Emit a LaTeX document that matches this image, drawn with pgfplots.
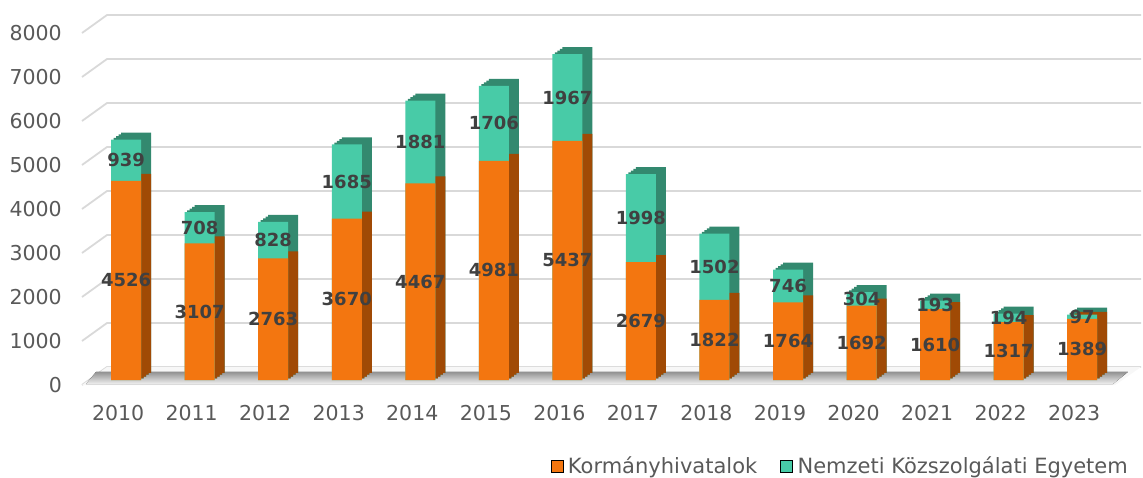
\documentclass[border=0pt]{standalone}
\usepackage{pgfplots}
\pgfplotsset{compat=1.18}
\usepackage{pgfplotstable}
\usepackage{fontspec}
\setmainfont{DejaVu Sans}
\definecolor{ora}{HTML}{F37610}
\definecolor{oras}{HTML}{A04A05}
\definecolor{tea}{HTML}{48CBA7}
\definecolor{teas}{HTML}{33896F}
\definecolor{tickc}{HTML}{595959}
\definecolor{labc}{HTML}{404040}
\definecolor{gridc}{HTML}{D9D9D9}

\pgfplotstableread{
x a b
0 4526 939
1 3107 708
2 2763 828
3 3670 1685
4 4467 1881
5 4981 1706
6 5437 1967
7 2679 1998
8 1822 1502
9 1764 746
10 1692 304
11 1610 193
12 1317 194
13 1389 97
}\data

\begin{document}
\begin{tikzpicture}
\useasboundingbox (0,0) rectangle (1143bp,478bp);
\begin{axis}[
  at={(82bp,98bp)}, anchor=south west,
  scale only axis, width=1059bp, height=352bp,
  xmin=-0.6, xmax=13.8, ymin=0, ymax=8000,
  clip=false,
  axis line style={draw=none},
  major tick length=0pt,
  ytick={0,1000,...,8000},
  xtick={0,...,13},
  xticklabels={2010,2011,2012,2013,2014,2015,2016,2017,2018,2019,2020,2021,2022,2023},
  /pgf/number format/assume math mode=true,
  /pgf/number format/1000 sep={},
  ticklabel style={font=\fontsize{20.5bp}{24bp}\selectfont, text=tickc},
  yticklabel style={inner sep=0pt, xshift=-20bp, yshift=-5bp},
  xticklabel style={inner sep=0pt, anchor=north, yshift=-25bp, xshift=-8bp},
  bar width=30bp,
  legend style={draw=none, fill=none, at={(1,0)}, anchor=east, yshift=-86bp, xshift=-11bp,
    inner sep=0pt, legend columns=2, font=\fontsize{21bp}{24bp}\selectfont, text=tickc,
    /tikz/every even column/.append style={column sep=21bp}},
  legend cell align=left,
  legend image code/.code={\fill[#1] (0bp,-6bp) rectangle (12bp,6bp); \path (15bp,0bp);},
  nodes near coords style={font=\bfseries\fontsize{18bp}{20bp}\selectfont, text=labc, anchor=center, inner sep=0pt},
]
\pgfplotsinvokeforeach{0,1000,...,8000}{
  \draw[gridc, line width=1.8bp] ([yshift=-5bp]axis cs:-0.6,#1) -- ([xshift=25bp,yshift=13bp]axis cs:-0.6,#1) -- ([yshift=13bp]axis cs:13.8,#1);
}
\fill[gray!6] ([yshift=-5bp]axis cs:-0.6,0) -- ([yshift=-5bp]axis cs:13.45,0) -- ([yshift=13bp]axis cs:13.8,0) -- ([xshift=25bp,yshift=13bp]axis cs:-0.6,0) -- cycle;
\fill[top color=gray!85, bottom color=gray!12]
  ([xshift=14bp,yshift=8bp]axis cs:-0.6,0) -- ([yshift=8bp]axis cs:13.62,0) -- ([yshift=-4bp]axis cs:13.42,0) -- ([xshift=4bp,yshift=-4bp]axis cs:-0.6,0) -- cycle;

\pgfplotsinvokeforeach{10,7.5,5,2.5}{
\addplot[ybar, bar shift=0pt, fill=teas, draw=none, xshift=#1bp, yshift={0.7*#1bp}, forget plot]
  table[x=x, y expr=\thisrow{a}+\thisrow{b}]{\data};
}
\pgfplotsinvokeforeach{10,7.5,5,2.5}{
\addplot[ybar, bar shift=0pt, fill=oras, draw=none, xshift=#1bp, yshift={0.7*#1bp}, forget plot]
  table[x=x, y=a]{\data};
}
\addplot[ybar, bar shift=0pt, fill=tea, draw=none, forget plot]
  table[x=x, y expr=\thisrow{a}+\thisrow{b}]{\data};
\addplot[ybar, bar shift=0pt, fill=ora, draw=none, forget plot]
  table[x=x, y=a]{\data};

\addplot[draw=none, nodes near coords, point meta=explicit, forget plot]
  table[x=x, y expr=\thisrow{a}/2, meta=a]{\data};
\addplot[draw=none, nodes near coords, point meta=explicit, forget plot]
  table[x=x, y expr=\thisrow{a}+\thisrow{b}/2, meta=b]{\data};

\addlegendimage{fill=ora}
\addlegendentry{Kormányhivatalok}
\addlegendimage{fill=tea}
\addlegendentry{Nemzeti Közszolgálati Egyetem}
\end{axis}
\end{tikzpicture}
\end{document}
